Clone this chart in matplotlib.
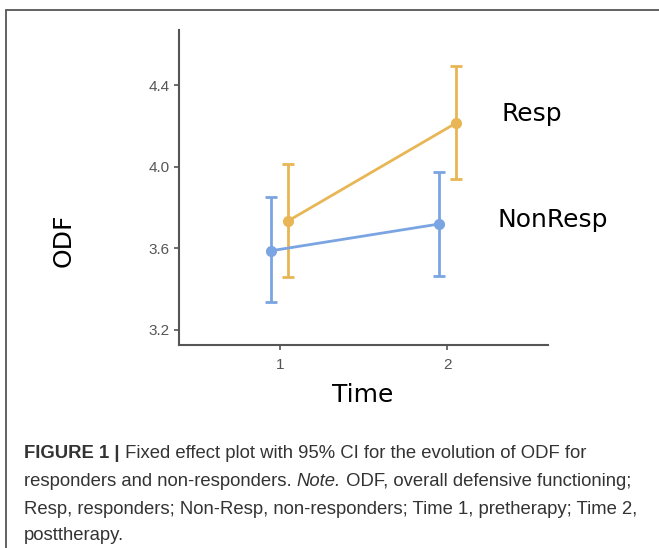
import matplotlib.pyplot as plt
from matplotlib.patches import Rectangle

# fixed effect estimates with 95% CI
times = [1, 2]
resp_mean = [3.734, 4.213]
resp_low = [3.458, 3.938]
resp_high = [4.012, 4.493]
nonresp_mean = [3.588, 3.719]
nonresp_low = [3.335, 3.464]
nonresp_high = [3.850, 3.975]
y_ticks = [3.2, 3.6, 4.0, 4.4]

BLUE = '#7ba4e2'
ORANGE = '#e8b654'

fig = plt.figure(figsize=(6.59, 5.48), dpi=100)

# outer figure frame (open at right and bottom)
W, H = 659, 548
fig.patches.append(Rectangle((6 / W, -0.1), 1.2, 1 - 10 / H + 0.1, transform=fig.transFigure,
                             fill=False, edgecolor='#555555', linewidth=1.3))

ax = fig.add_axes([179 / W, 1 - 345 / H, (548 - 179) / W, (345 - 30) / H])


def draw_group(ax, offset, mean, low, high, color):
    x = [t + offset for t in times]
    yerr = [[m - l for m, l in zip(mean, low)], [h - m for m, h in zip(mean, high)]]
    ax.errorbar(x, mean, yerr=yerr, color=color, linewidth=2, elinewidth=2,
                capsize=4.5, capthick=2, marker='o', markersize=7)


draw_group(ax, -0.05, nonresp_mean, nonresp_low, nonresp_high, BLUE)
draw_group(ax, 0.05, resp_mean, resp_low, resp_high, ORANGE)

ax.set_xlim(0.4, 2.6)
ax.set_ylim(3.126, 4.67)
ax.set_xticks(times)
ax.set_yticks(y_ticks)
ax.set_yticklabels(['%.1f' % v for v in y_ticks])
for s in ['top', 'right']:
    ax.spines[s].set_visible(False)
for s in ['left', 'bottom']:
    ax.spines[s].set_color('#555555')
    ax.spines[s].set_linewidth(1.5)
ax.tick_params(colors='#555555', labelcolor='#555555', length=3.5, width=1.2,
               labelsize=11)
ax.tick_params(axis='y', pad=3)
ax.tick_params(axis='x', pad=6)
for lab in ax.get_xticklabels() + ax.get_yticklabels():
    lab.set_family('Liberation Sans')

ax.text(2.32, 4.258, 'Resp', fontsize=18, va='center', ha='left', clip_on=False)
ax.text(2.298, 3.738, 'NonResp', fontsize=18, va='center', ha='left', clip_on=False)

fig.text(363 / W, 1 - 395 / H, 'Time', fontsize=18, ha='center', va='center')
fig.text(64 / W, 1 - 240 / H, 'ODF', fontsize=18, ha='center', va='center', rotation=90)

# caption with mixed styles, pieces placed one after another
cap_kw = dict(fontsize=13.3, family='Liberation Sans', color='#333333')
lines = [
    [('FIGURE 1 |', 'bold', 'normal'),
     (' Fixed effect plot with 95% CI for the evolution of ODF for', 'normal', 'normal')],
    [('responders and non-responders. ', 'normal', 'normal'), ('Note.', 'normal', 'italic'),
     (' ODF, overall defensive functioning;', 'normal', 'normal')],
    [('Resp, responders; Non-Resp, non-responders; Time 1, pretherapy; Time 2,', 'normal', 'normal')],
    [('posttherapy.', 'normal', 'normal')],
]
line_y = [453, 482, 510, 535]

renderer = fig.canvas.get_renderer()
for parts, yy in zip(lines, line_y):
    x_px = 24
    for txt, weight, style in parts:
        t = fig.text(x_px / W, 1 - yy / H, txt, va='center', ha='left',
                     fontweight=weight, fontstyle=style, **cap_kw)
        x_px += t.get_window_extent(renderer).width

fig.savefig('out.png', dpi=100)
